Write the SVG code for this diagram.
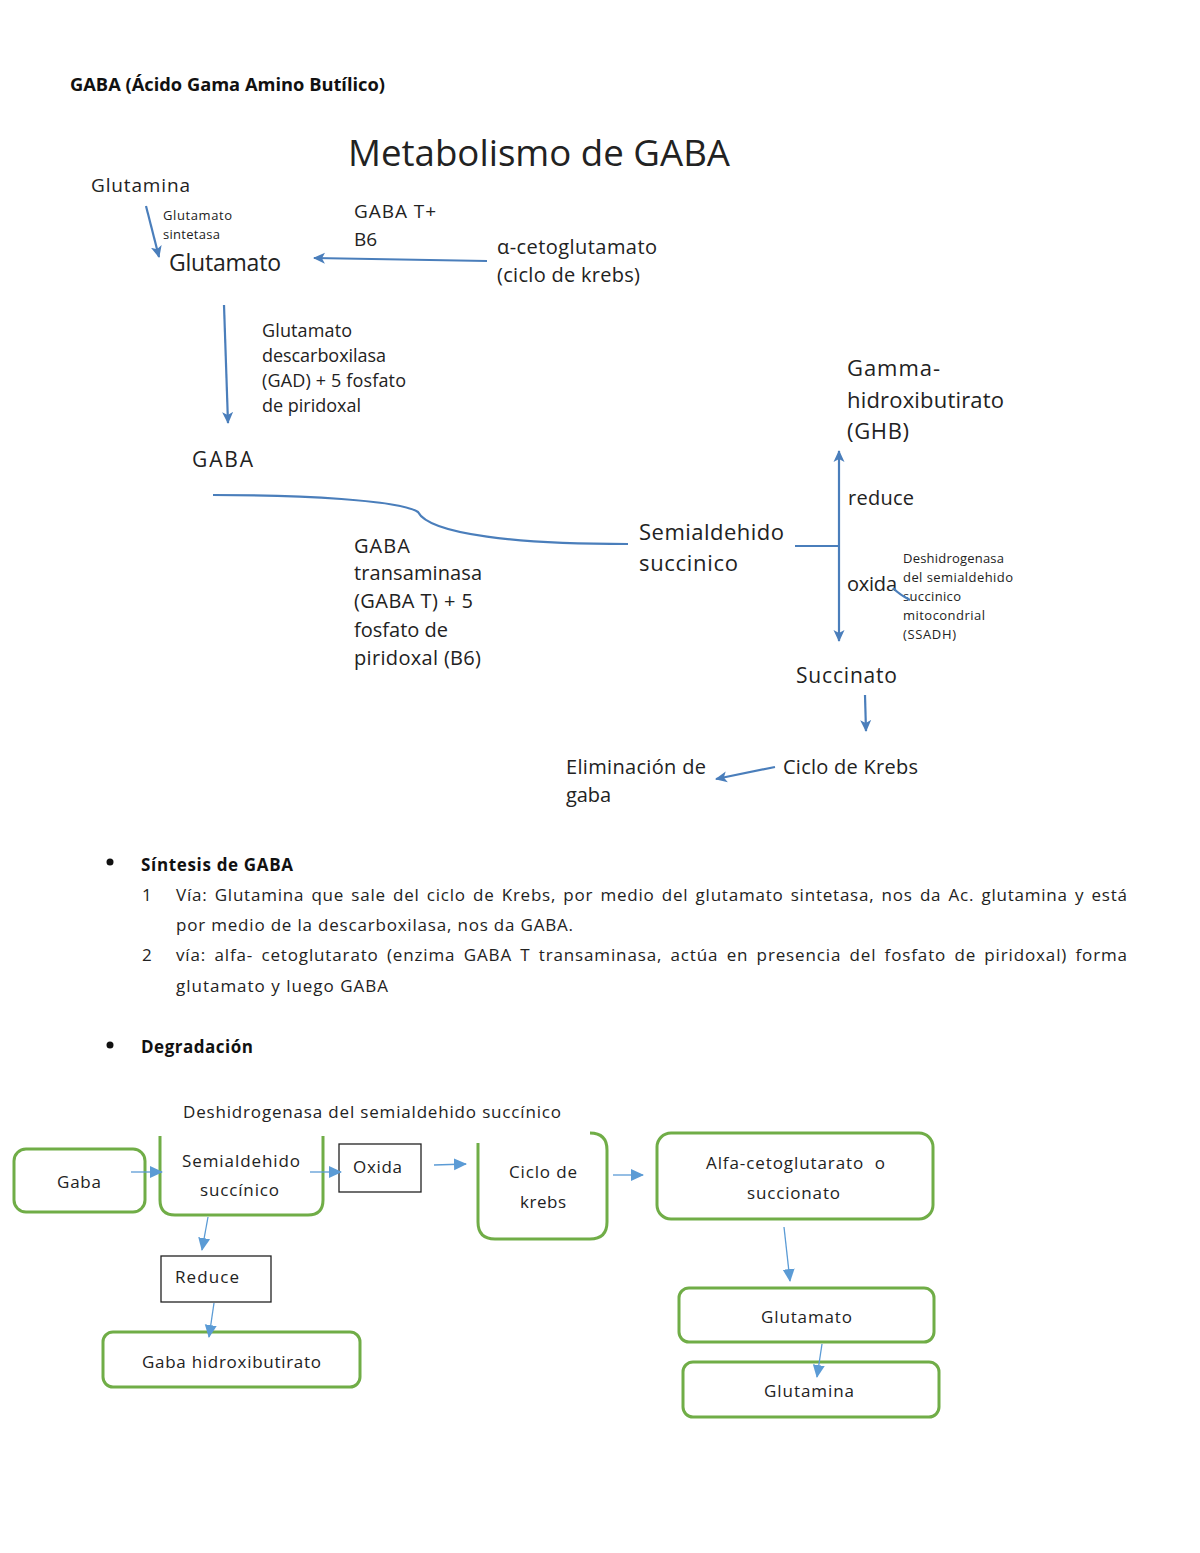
<svg xmlns="http://www.w3.org/2000/svg" width="1200" height="1553" viewBox="0 0 1200 1553">
<defs>
<marker id="ah" markerWidth="14" markerHeight="14" refX="11" refY="7" orient="auto" markerUnits="userSpaceOnUse"><path d="M0,1.5 L12,7 L0,12.5 L3,7 z" fill="#4a7ebb"/></marker>
<marker id="ah2" markerWidth="14" markerHeight="14" refX="12" refY="7" orient="auto" markerUnits="userSpaceOnUse"><path d="M0,1 L13,7 L0,13 z" fill="#5b9bd5"/></marker>
<style>
text{font-family:"Open Sans","Noto Sans","Liberation Sans",sans-serif;fill:#222}
.b{font-weight:bold;fill:#111}
.c{text-anchor:middle}
.ln{stroke:#4a7ebb;stroke-width:2.2;fill:none}
.ln2{stroke:#5b9bd5;stroke-width:1.3;fill:none}
.g{stroke:#70ad47;stroke-width:3;fill:#fff}
.k{stroke:#222;stroke-width:1.3;fill:#fff}
</style>
</defs>
<rect width="1200" height="1553" fill="#fff"/>
<text class="b" x="70" y="91" font-size="17" textLength="315" lengthAdjust="spacingAndGlyphs">GABA (Ácido Gama Amino Butílico)</text>
<text x="348" y="166" font-size="36" textLength="382" lengthAdjust="spacingAndGlyphs">Metabolismo de GABA</text>

<g id="n-glutamina"><text x="91" y="192" font-size="19" textLength="99">Glutamina</text></g>
<g id="l-sintetasa"><text x="163" y="220" font-size="13" textLength="69">Glutamato</text><text x="163" y="239" font-size="13" textLength="57">sintetasa</text></g>
<g id="n-glutamato"><text x="169" y="271" font-size="23" textLength="112">Glutamato</text></g>
<g id="l-gabat"><text x="354" y="218" font-size="19" textLength="82">GABA T+</text><text x="354" y="246" font-size="19">B6</text></g>
<g id="n-alfa"><text x="497" y="254" font-size="20" textLength="160">α-cetoglutamato</text><text x="497" y="282" font-size="20" textLength="143">(ciclo de krebs)</text></g>
<g id="l-gad"><text x="262" y="337" font-size="18" textLength="90">Glutamato</text><text x="262" y="362" font-size="18" textLength="124">descarboxilasa</text><text x="262" y="387" font-size="18" textLength="144">(GAD) + 5 fosfato</text><text x="262" y="412" font-size="18" textLength="99">de piridoxal</text></g>
<g id="n-gaba"><text x="192" y="467" font-size="21" textLength="61">GABA</text></g>
<g id="l-transaminasa"><text x="354" y="553" font-size="20" textLength="56">GABA</text><text x="354" y="580" font-size="20" textLength="128">transaminasa</text><text x="354" y="608" font-size="20" textLength="119">(GABA T) + 5</text><text x="354" y="637" font-size="20" textLength="94">fosfato de</text><text x="354" y="665" font-size="20" textLength="127">piridoxal (B6)</text></g>
<g id="n-semialdehido"><text x="639" y="540" font-size="22" textLength="145">Semialdehido</text><text x="639" y="571" font-size="22" textLength="99">succinico</text></g>
<g id="n-ghb"><text x="847" y="376" font-size="22" textLength="93">Gamma-</text><text x="847" y="408" font-size="22" textLength="157">hidroxibutirato</text><text x="847" y="439" font-size="22" textLength="62">(GHB)</text></g>
<g id="l-reduce"><text x="848" y="505" font-size="20" textLength="66">reduce</text></g>
<g id="l-oxida"><text x="847" y="591" font-size="20" textLength="50">oxida</text></g>
<g id="l-ssadh"><text x="903" y="563" font-size="13" textLength="101">Deshidrogenasa</text><text x="903" y="582" font-size="13" textLength="110">del semialdehido</text><text x="903" y="601" font-size="13" textLength="58">succinico</text><text x="903" y="620" font-size="13" textLength="82">mitocondrial</text><text x="903" y="639" font-size="13" textLength="53">(SSADH)</text></g>
<g id="n-succinato"><text x="796" y="683" font-size="21" textLength="101">Succinato</text></g>
<g id="n-krebs"><text x="783" y="774" font-size="20" textLength="135">Ciclo de Krebs</text></g>
<g id="n-eliminacion"><text x="566" y="774" font-size="20" textLength="140">Eliminación de</text><text x="566" y="802" font-size="20" textLength="45">gaba</text></g>

<g id="text-body">
<circle cx="110" cy="862" r="3.5" fill="#111"/>
<text class="b" x="141" y="871" font-size="17" textLength="152">Síntesis de GABA</text>
<text x="142" y="901" font-size="17">1</text>
<text x="176" y="901" font-size="17" textLength="951" lengthAdjust="spacing" word-spacing="2">Vía: Glutamina que sale del ciclo de Krebs, por medio del glutamato sintetasa, nos da Ac. glutamina y está</text>
<text x="176" y="931" font-size="17" textLength="397">por medio de la descarboxilasa, nos da GABA.</text>
<text x="142" y="961" font-size="17">2</text>
<text x="176" y="961" font-size="17" textLength="951" lengthAdjust="spacing" word-spacing="3">vía: alfa- cetoglutarato (enzima GABA T transaminasa, actúa en presencia del fosfato de piridoxal) forma</text>
<text x="176" y="992" font-size="17" textLength="212">glutamato y luego GABA</text>
<circle cx="110" cy="1045" r="3.5" fill="#111"/>
<text class="b" x="141" y="1053" font-size="17" textLength="112">Degradación</text>
<text x="183" y="1118" font-size="17" textLength="378">Deshidrogenasa del semialdehido succínico</text>
</g>

<g id="b-gaba"><rect class="g" x="14" y="1149" width="131" height="63" rx="12"/><text x="57" y="1188" font-size="17" textLength="44">Gaba</text></g>
<g id="b-semialdehido"><path class="g" d="M160,1136 L160,1200 Q160,1215 175,1215 L308,1215 Q323,1215 323,1200 L323,1136"/><text x="182" y="1167" font-size="17" textLength="118">Semialdehido</text><text x="200" y="1196" font-size="17" textLength="79">succínico</text></g>
<g id="b-oxida"><rect class="k" x="339" y="1144" width="82" height="48"/><text x="353" y="1173" font-size="17" textLength="49">Oxida</text></g>
<g id="b-krebs"><path class="g" d="M478,1143 L478,1222 Q478,1239 495,1239 L590,1239 Q607,1239 607,1222 L607,1150 Q607,1133 590,1133"/><text x="509" y="1178" font-size="17" textLength="68">Ciclo de</text><text x="520" y="1208" font-size="17" textLength="46">krebs</text></g>
<g id="b-alfa"><rect class="g" x="657" y="1133" width="276" height="86" rx="14"/><text x="706" y="1169" font-size="17" textLength="179" xml:space="preserve">Alfa-cetoglutarato  o</text><text x="747" y="1199" font-size="17" textLength="93">succionato</text></g>
<g id="b-glutamato"><rect class="g" x="679" y="1288" width="255" height="54" rx="10"/><text x="761" y="1323" font-size="17" textLength="91">Glutamato</text></g>
<g id="b-glutamina"><rect class="g" x="683" y="1362" width="256" height="55" rx="10"/><text x="764" y="1397" font-size="17" textLength="90">Glutamina</text></g>
<g id="b-reduce"><rect class="k" x="161" y="1256" width="110" height="46"/><text x="175" y="1283" font-size="17" textLength="64">Reduce</text></g>
<g id="b-hidroxi"><rect class="g" x="103" y="1332" width="257" height="55" rx="10"/><text x="142" y="1368" font-size="17" textLength="179">Gaba hidroxibutirato</text></g>

<g id="connectors">
<line class="ln" x1="146" y1="206" x2="159" y2="257" marker-end="url(#ah)"/>
<line class="ln" x1="487" y1="261" x2="314" y2="258" marker-end="url(#ah)"/>
<line class="ln" x1="224" y1="305" x2="228" y2="423" marker-end="url(#ah)"/>
<path class="ln" d="M213,495 C300,495 400,500 418,512 C430,535 520,544 628,544"/>
<line class="ln" x1="795" y1="546" x2="839" y2="546"/>
<line class="ln" x1="839" y1="546" x2="839" y2="451" marker-end="url(#ah)"/>
<line class="ln" x1="839" y1="546" x2="839" y2="641" marker-end="url(#ah)"/>
<path class="ln" d="M893,588 Q900,595 910,600" stroke-width="1.5"/>
<line class="ln" x1="865" y1="695" x2="866" y2="731" marker-end="url(#ah)"/>
<line class="ln" x1="775" y1="767" x2="716" y2="779" marker-end="url(#ah)"/>
<line class="ln2" x1="131" y1="1172" x2="162" y2="1172" marker-end="url(#ah2)"/>
<line class="ln2" x1="310" y1="1172" x2="341" y2="1172" marker-end="url(#ah2)"/>
<line class="ln2" x1="434" y1="1165" x2="466" y2="1164" marker-end="url(#ah2)"/>
<line class="ln2" x1="613" y1="1175" x2="643" y2="1175" marker-end="url(#ah2)"/>
<line class="ln2" x1="208" y1="1217" x2="202" y2="1250" marker-end="url(#ah2)"/>
<line class="ln2" x1="214" y1="1303" x2="209" y2="1337" marker-end="url(#ah2)"/>
<line class="ln2" x1="784" y1="1227" x2="790" y2="1281" marker-end="url(#ah2)"/>
<line class="ln2" x1="822" y1="1344" x2="817" y2="1377" marker-end="url(#ah2)"/>
</g>
</svg>
